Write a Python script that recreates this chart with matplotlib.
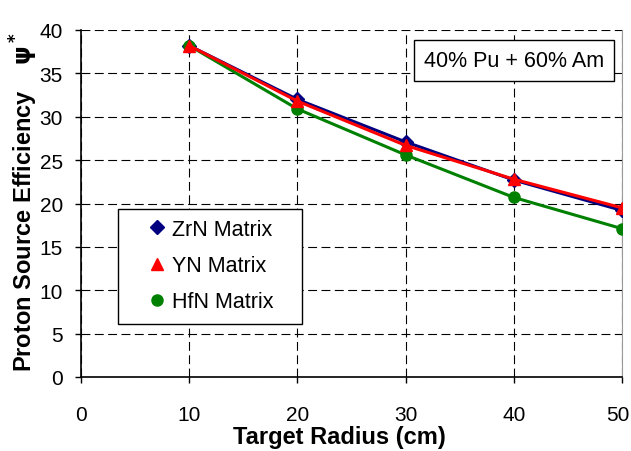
import matplotlib
matplotlib.use('Agg')
import matplotlib.pyplot as plt
from matplotlib.patches import Rectangle
from matplotlib.transforms import ScaledTranslation

plt.rcParams['font.family'] = ['Liberation Sans', 'DejaVu Sans']

# data
radius = [10, 20, 30, 40, 50]
zrn = [38.2, 32.0, 27.1, 22.7, 19.2]
yn = [38.2, 31.8, 26.7, 22.8, 19.5]
hfn = [38.2, 30.9, 25.6, 20.7, 17.1]
xticks = [0, 10, 20, 30, 40, 50]
yticks = [0, 5, 10, 15, 20, 25, 30, 35, 40]

fig = plt.figure(figsize=(6.31, 4.52), dpi=100)
ax = fig.add_axes([81/631, 1 - 378/452, 541/631, 347/452])

ax.plot(radius, zrn, color='#000080', lw=2.2, marker='D', ms=7, label='ZrN Matrix', zorder=3)
ax.plot(radius, yn, color='#ff0000', lw=2.2, marker='^', ms=8.5, label='YN Matrix', zorder=4)
ax.plot(radius, hfn, color='#008000', lw=2.2, marker='o', ms=8, label='HfN Matrix', zorder=3)

ax.set_xlim(0, 50)
ax.set_ylim(0, 40)
ax.set_xticks(xticks)
ax.set_yticks(yticks)
ax.tick_params(labelsize=15, direction='out', length=4, width=1)
ax.tick_params(axis='x', pad=16)
ax.tick_params(axis='y', pad=9)
ax.grid(True, ls=(0, (8, 4)), color='black', lw=0.8)
ax.set_axisbelow(True)

# last x label sits at the figure edge, nudge it in a little
lbl = ax.get_xticklabels()[-1]
lbl.set_transform(lbl.get_transform() + ScaledTranslation(-4/100, 0, fig.dpi_scale_trans))

ax.spines['top'].set_visible(False)
ax.spines['right'].set_color('#999999')
ax.spines['left'].set_linewidth(1.2)
ax.spines['bottom'].set_linewidth(1.2)

ax.set_xlabel('Target Radius (cm)', fontsize=17, fontweight='bold', va='top')
ax.xaxis.set_label_coords(0.478, -0.139)
ax.set_ylabel('Proton Source Efficiency    $\\mathbf{\\psi^*}$', fontsize=17, fontweight='bold')
ax.yaxis.set_label_coords(-0.075, 0.508)

# legend box drawn separately so the padding matches the original
ax.add_patch(Rectangle((37/541, 53/347), 184/541, 115/347, transform=ax.transAxes,
                       fc='white', ec='black', lw=1.0, zorder=5))
leg = ax.legend(loc='upper left', bbox_to_anchor=(65.6/541, 158/347),
                fontsize=15.5, frameon=False, handlelength=1.0, handletextpad=0.17,
                labelspacing=0.7, borderpad=0, borderaxespad=0, numpoints=1)
leg.set_zorder(6)
for h in leg.legend_handles:
    h.set_linestyle('none')

ax.text(0.967, 0.912, '40% Pu + 60% Am', transform=ax.transAxes, fontsize=15.5,
        ha='right', va='center', zorder=6,
        bbox=dict(boxstyle='square,pad=0.45', fc='white', ec='black', lw=1.0))

fig.savefig('out.png', dpi=100)
